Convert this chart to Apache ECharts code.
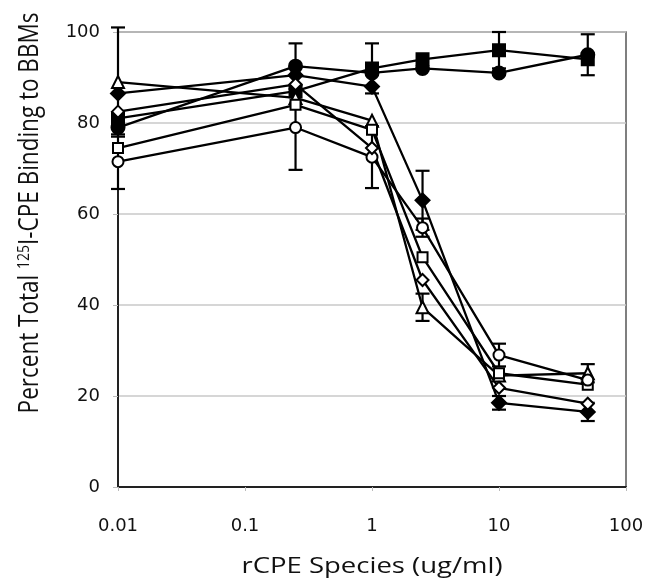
<!DOCTYPE html>
<html>
<head>
<meta charset="utf-8">
<script src="https://cdn.jsdelivr.net/npm/echarts@6/dist/echarts.min.js"></script>
<style>html,body{margin:0;padding:0;background:#fff;}#c{width:647px;height:586px;}</style>
</head>
<body>
<div id="c"></div>
<script>
const xValues = [0.01, 0.25, 1, 2.5, 10, 50];
const xTicks = [0.01, 0.1, 1, 10, 100];
const yTicks = [0, 20, 40, 60, 80, 100];

const sqFilled   = [81, 87, 92, 94, 96, 94];
const circFilled = [79, 92.5, 91, 92, 91, 95];
const diaFilled  = [86.5, 90.5, 88, 63, 18.5, 16.5];
const triOpen    = [89, 85.5, 80.5, 39.5, 24.5, 25];
const sqOpen     = [74.5, 84, 78.5, 50.5, 25, 22.5];
const circOpen   = [71.5, 79, 72.5, 57, 29, 23.5];
const diaOpen    = [82.5, 88.5, 74.5, 45.5, 21.8, 18.3];

const sqFilledErr   = [0, 0, 5.5, 0, 4, 0];
const circFilledErr = [0, 5, 0, 0, 0, 4.5];
const diaFilledErr  = [0, 0, 0, 6.5, 1.5, 2];
const triOpenErr    = [12, 0, 0, 3, 0, 2];
const sqOpenErr     = [0, 0, 0, 0, 0, 0];
const circOpenErr   = [6, 9.3, 6.8, 2, 2.5, 0];
const diaOpenErr    = [0, 0, 0, 0, 0, 0];

const defs = [
  {name: 'sqFilled', v: sqFilled, e: sqFilledErr, sym: 'rect', fill: '#000', size: 12},
  {name: 'circFilled', v: circFilled, e: circFilledErr, sym: 'circle', fill: '#000', size: 13},
  {name: 'diaFilled', v: diaFilled, e: diaFilledErr, sym: 'diamond', fill: '#000', size: 14},
  {name: 'triOpen', v: triOpen, e: triOpenErr, sym: 'triangle', fill: '#fff', size: 12},
  {name: 'sqOpen', v: sqOpen, e: sqOpenErr, sym: 'rect', fill: '#fff', size: 10},
  {name: 'circOpen', v: circOpen, e: circOpenErr, sym: 'circle', fill: '#fff', size: 11},
  {name: 'diaOpen', v: diaOpen, e: diaOpenErr, sym: 'diamond', fill: '#fff', size: 12}
];

const series = [];
defs.forEach(function (d) {
  const errData = [];
  d.v.forEach(function (y, i) {
    if (d.e[i] > 0) errData.push([xValues[i], y - d.e[i], y + d.e[i]]);
  });
  series.push({
    type: 'custom',
    name: d.name + 'Err',
    data: errData,
    encode: {x: 0, y: [1, 2]},
    z: 1,
    silent: true,
    renderItem: function (params, api) {
      const lo = api.coord([api.value(0), api.value(1)]);
      const hi = api.coord([api.value(0), api.value(2)]);
      const w = 7;
      const st = {stroke: '#000', lineWidth: 2.2};
      return {
        type: 'group',
        children: [
          {type: 'line', shape: {x1: lo[0], y1: lo[1], x2: hi[0], y2: hi[1]}, style: st},
          {type: 'line', shape: {x1: lo[0] - w, y1: lo[1], x2: lo[0] + w, y2: lo[1]}, style: st},
          {type: 'line', shape: {x1: hi[0] - w, y1: hi[1], x2: hi[0] + w, y2: hi[1]}, style: st}
        ]
      };
    }
  });
  series.push({
    type: 'line',
    name: d.name,
    data: d.v.map(function (y, i) { return [xValues[i], y]; }),
    symbol: d.sym,
    symbolSize: d.size,
    showAllSymbol: true,
    z: 2,
    lineStyle: {color: '#000', width: 2.3},
    itemStyle: {color: d.fill, borderColor: '#000', borderWidth: 2},
    emphasis: {disabled: true},
    animation: false
  });
});

const chart = echarts.init(document.getElementById('c'), null, {renderer: 'canvas'});
chart.setOption({
  animation: false,
  backgroundColor: '#fff',
  grid: {left: 118, right: 21, top: 32, bottom: 99, show: true, borderColor: '#555', borderWidth: 1.5, backgroundColor: 'transparent'},
  xAxis: {
    type: 'log',
    logBase: 10,
    min: xTicks[0],
    max: xTicks[xTicks.length - 1],
    axisLine: {show: true, onZero: false, lineStyle: {color: '#222', width: 2}},
    axisTick: {show: true, length: 4, lineStyle: {color: '#bbb', width: 1}},
    splitLine: {show: false},
    minorTick: {show: false},
    axisLabel: {
      color: '#111', fontFamily: 'DejaVu Sans', fontSize: 18, margin: 30,
      formatter: function (v) { return String(v); }
    }
  },
  yAxis: {
    type: 'value',
    min: yTicks[0],
    max: yTicks[yTicks.length - 1],
    interval: 20,
    axisLine: {show: true, lineStyle: {color: '#222', width: 2}},
    axisTick: {show: true, length: 5, lineStyle: {color: '#bbb', width: 1}},
    splitLine: {show: true, lineStyle: {color: '#c8c8c8', width: 1.5}},
    axisLabel: {color: '#111', fontFamily: 'DejaVu Sans', fontSize: 18, margin: 18}
  },
  graphic: [
    {
      type: 'text',
      x: 372, y: 567,
      scaleX: 1.25,
      style: {
        text: 'rCPE Species (ug/ml)',
        font: '22px "Open Sans"',
        fill: '#111',
        align: 'center',
        verticalAlign: 'middle'
      }
    },
    {
      type: 'text',
      x: 30, y: 213,
      rotation: Math.PI / 2,
      scaleY: 1.22,
      style: {
        text: 'Percent Total {sup|125}I-CPE Binding to BBMs',
        font: '22.5px "Open Sans"',
        fill: '#111',
        align: 'center',
        verticalAlign: 'middle',
        rich: {
          sup: {font: '14px "Open Sans"', fill: '#111', verticalAlign: 'top', padding: [0, 0, 10, 0]}
        }
      }
    }
  ],
  series: series
});
</script>
</body>
</html>
